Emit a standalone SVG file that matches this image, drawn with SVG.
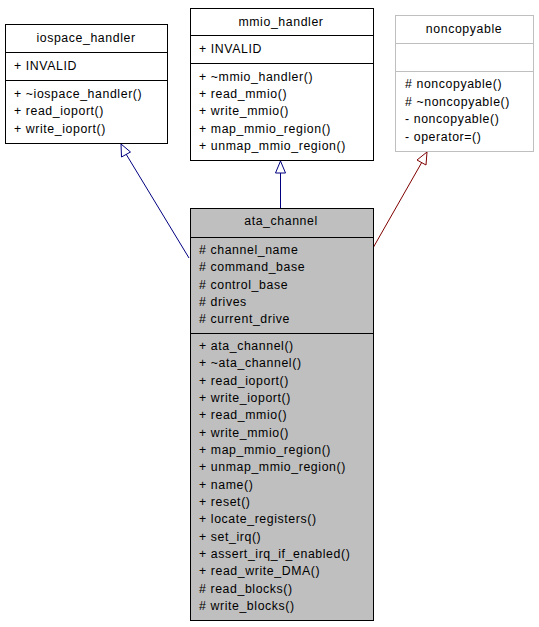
<svg xmlns="http://www.w3.org/2000/svg" width="539" height="627" viewBox="0 0 539 627">
<style>
text{font-family:"Liberation Sans",Arial,sans-serif;font-size:12.3px;letter-spacing:0.6px;fill:#000}
.c{text-anchor:middle}
.b{fill:#fff;stroke:#000;stroke-width:1}
.g{fill:#fff;stroke:#bfbfbf;stroke-width:1}
.l{stroke:#000;stroke-width:1}
.lg{stroke:#bfbfbf;stroke-width:1}
</style>
<rect width="539" height="627" fill="#fff"/>
<g id="connectors" fill="none">
<line x1="189" y1="258" x2="126" y2="154" stroke="#000080"/>
<polygon points="121,144 121.5,157 130.5,152" fill="#fff" stroke="#000080"/>
<line x1="280.5" y1="208" x2="280.5" y2="173" stroke="#000080"/>
<polygon points="280.5,161 275.5,173 285.5,173" fill="#fff" stroke="#000080"/>
<line x1="373" y1="248" x2="422" y2="162" stroke="#800000"/>
<polygon points="427,152 417,160 426,165" fill="#fff" stroke="#800000"/>
</g>
<g id="iospace_handler">
<rect class="b" x="5.5" y="24.5" width="162" height="119"/>
<line class="l" x1="5.5" y1="52.5" x2="167.5" y2="52.5"/>
<line class="l" x1="5.5" y1="80.5" x2="167.5" y2="80.5"/>
<text class="c" x="86" y="42">iospace_handler</text>
<text x="14" y="70">+ INVALID</text>
<text x="14" y="98">+ ~iospace_handler()</text>
<text x="14" y="115">+ read_ioport()</text>
<text x="14" y="133">+ write_ioport()</text>
</g>
<g id="mmio_handler">
<rect class="b" x="190.5" y="8.5" width="183" height="152"/>
<line class="l" x1="190.5" y1="35.5" x2="373.5" y2="35.5"/>
<line class="l" x1="190.5" y1="63.5" x2="373.5" y2="63.5"/>
<text class="c" x="281" y="26">mmio_handler</text>
<text x="199" y="53">+ INVALID</text>
<text x="199" y="81">+ ~mmio_handler()</text>
<text x="199" y="98">+ read_mmio()</text>
<text x="199" y="115">+ write_mmio()</text>
<text x="199" y="133">+ map_mmio_region()</text>
<text x="199" y="150">+ unmap_mmio_region()</text>
</g>
<g id="noncopyable">
<rect class="g" x="395.5" y="15.5" width="138" height="136"/>
<line class="lg" x1="395.5" y1="43.5" x2="533.5" y2="43.5"/>
<line class="lg" x1="395.5" y1="71.5" x2="533.5" y2="71.5"/>
<text class="c" x="464" y="33">noncopyable</text>
<text x="405" y="88"># noncopyable()</text>
<text x="405" y="106"># ~noncopyable()</text>
<text x="405" y="123">- noncopyable()</text>
<text x="405" y="141">- operator=()</text>
</g>
<g id="ata_channel">
<rect x="190.5" y="208.5" width="183" height="412" fill="#bfbfbf" stroke="#000"/>
<line class="l" x1="190.5" y1="237.5" x2="373.5" y2="237.5"/>
<line class="l" x1="190.5" y1="333.5" x2="373.5" y2="333.5"/>
<text class="c" x="281" y="225">ata_channel</text>
<text x="199" y="254"># channel_name</text>
<text x="199" y="271"># command_base</text>
<text x="199" y="289"># control_base</text>
<text x="199" y="306"># drives</text>
<text x="199" y="323"># current_drive</text>
<text x="199" y="350">+ ata_channel()</text>
<text x="199" y="367">+ ~ata_channel()</text>
<text x="199" y="385">+ read_ioport()</text>
<text x="199" y="402">+ write_ioport()</text>
<text x="199" y="419">+ read_mmio()</text>
<text x="199" y="437">+ write_mmio()</text>
<text x="199" y="454">+ map_mmio_region()</text>
<text x="199" y="471">+ unmap_mmio_region()</text>
<text x="199" y="489">+ name()</text>
<text x="199" y="506">+ reset()</text>
<text x="199" y="523">+ locate_registers()</text>
<text x="199" y="541">+ set_irq()</text>
<text x="199" y="558">+ assert_irq_if_enabled()</text>
<text x="199" y="575">+ read_write_DMA()</text>
<text x="199" y="593"># read_blocks()</text>
<text x="199" y="610"># write_blocks()</text>
</g>
</svg>
